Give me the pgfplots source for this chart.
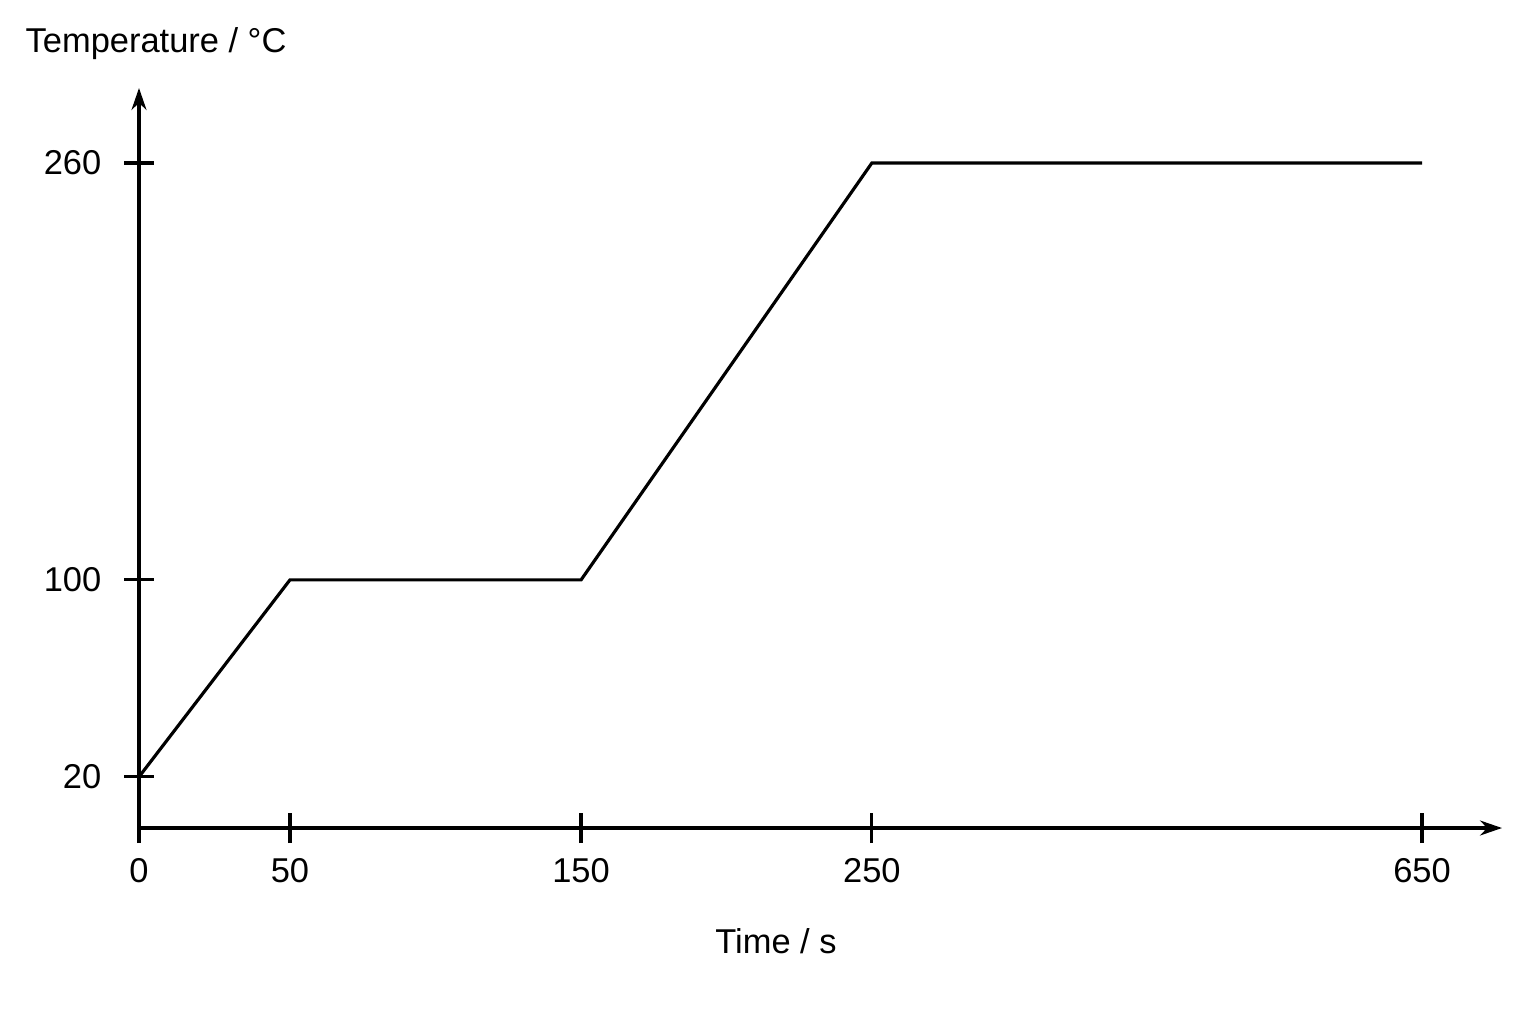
\documentclass[border=0pt]{standalone}
\usepackage{fontspec}
\setmainfont{Liberation Sans}
\usepackage{pgfplots}
\pgfplotsset{compat=1.18}
\usetikzlibrary{arrows.meta}
\begin{document}
\fontsize{9.8pt}{11pt}\selectfont
\begin{tikzpicture}[x=1cm,y=1cm]
\useasboundingbox (0,0) rectangle (15.36,10.24);
\begin{axis}[
  at={(1.39cm,1.96cm)}, anchor=south west,
  scale only axis, width=13.63cm, height=7.40cm,
  xmin=0, xmax=466.8, ymin=0, ymax=289.3,
  axis lines=left,
  axis line style={line width=0.9pt, -{Stealth[length=2.2mm,width=1.5mm]}},
  xtick={0,51.7,151.4,251,439.4}, xticklabels={0,50,150,250,650},
  ytick={20,97,260}, yticklabels={20,100,260},
  tick align=center, major tick length=3mm,
  tick style={line width=0.9pt, black},
  every tick label/.append style={font=\fontsize{9.8pt}{11pt}\selectfont},
  /pgf/number format/assume math mode=true,
  xticklabel style={anchor=north, inner sep=0pt, yshift=-1.5mm},
  yticklabel style={anchor=east, inner sep=0pt, xshift=-2.2mm},
  clip=false,
]
\addplot[line width=0.9pt, black] coordinates {
  (0,20) (51.7,97) (151.4,97) (251,260) (439.4,260)
};
\end{axis}
\node[anchor=base west, inner sep=0pt] at (0.25,9.71) {Temperature / °C};
\node[anchor=base, inner sep=0pt] at (7.76,0.71) {Time / s};
\end{tikzpicture}
\end{document}
